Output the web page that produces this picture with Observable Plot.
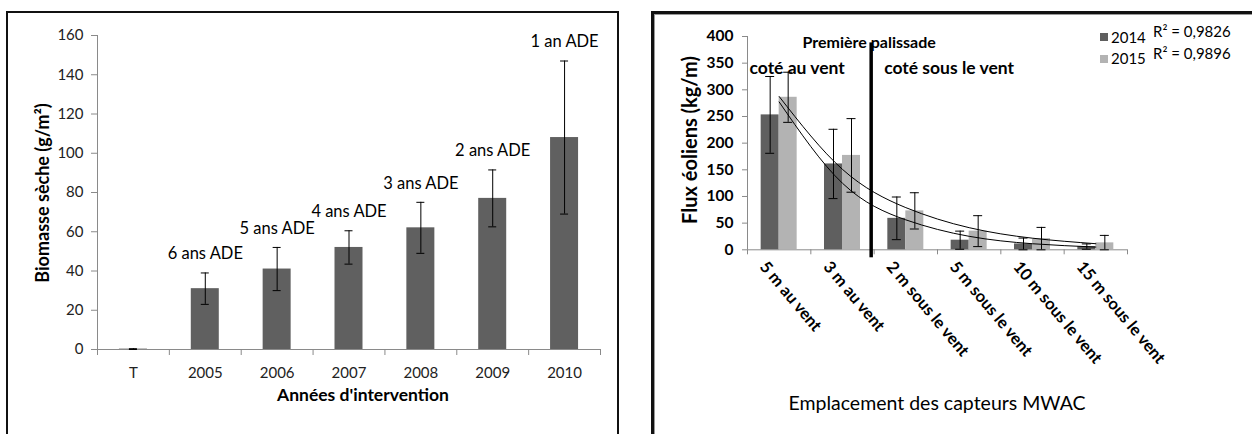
<!DOCTYPE html>
<html><head><meta charset="utf-8">
<script src="https://cdn.jsdelivr.net/npm/d3@7"></script>
<script src="https://cdn.jsdelivr.net/npm/@observablehq/plot@0.6"></script>
<style>
body{margin:0;background:#fff;width:1252px;height:434px;overflow:hidden;position:relative;font-family:Lato,"Open Sans",sans-serif;}
.frame{position:absolute;box-sizing:border-box;}
#f1{left:6px;top:11px;width:613px;height:440px;border:2.5px solid #111;}
#f2{left:651px;top:11px;width:620px;height:440px;border:3px solid #111;box-shadow:inset 1px 1px 0 #999;}
#c1{position:absolute;left:7px;top:12px;}
#c2{position:absolute;left:653px;top:12px;}
#c2 g[aria-label="y-axis tick label"] text, #c2 g[aria-label="x-axis tick label"] text{font-weight:bold;}
.t{position:absolute;white-space:nowrap;color:#000;line-height:1;}
.sq{position:absolute;width:8px;height:8px;}
</style></head><body>
<div class="frame" id="f1"></div>
<div class="frame" id="f2"></div>
<div id="c1"></div>
<div id="c2"></div>
<script>
// ---- Left chart data ----
const years = ["T","2005","2006","2007","2008","2009","2010"];
const biomass = [0.2,31,41,52,62,77,108];
const biomassErr = [0.2,8,11,8.5,13,14.5,39];
const ageLabels = ["","6 ans ADE","5 ans ADE","4 ans ADE","3 ans ADE","2 ans ADE","1 an ADE"];
const leftYTicks = [0,20,40,60,80,100,120,140,160];

// ---- Right chart data ----
const positions = ["5 m au vent","3 m au vent","2 m sous le vent","5 m sous le vent","10 m sous le vent","15 m sous le vent"];
const flux2014 = [253,161,59,18,11,6];
const err2014 = [72,65,40,17,11,5];
const flux2015 = [286,177,73,35,21,13];
const err2015 = [47,69,34,29,21,14];
const seriesYears = ["2014","2015"];
const r2Labels = ["R² = 0,9826","R² = 0,9896"];
const rightYTicks = [0,50,100,150,200,250,300,350,400];
const annotations = ["Première palissade","coté au vent","coté sous le vent"];

const dark = "#5f5f5f", light = "#b3b3b3", axisGray = "#8a8a8a";

function addText(str, x, y, {size=14, weight="normal", rotate=0, color="#000", anchor="center"}={}){
  const d = document.createElement("div");
  d.className = "t";
  d.textContent = str;
  d.style.fontSize = size + "px";
  d.style.fontWeight = weight;
  d.style.color = color;
  d.style.left = x + "px";
  d.style.top = y + "px";
  const tx = anchor === "start" ? "0" : "-50%";
  d.style.transform = `translate(${tx},-50%) rotate(${rotate}deg)`;
  document.body.appendChild(d);
}

// ---- Left chart ----
{
  const W = 612, H = 422, ml = 90, mr = 19, mt = 23, mb = 85;
  const bw = (W - ml - mr) / years.length;
  const data = years.map((y,i)=>({year:y, value:biomass[i], lo:biomass[i]-biomassErr[i], hi:biomass[i]+biomassErr[i], label:ageLabels[i]}));
  const capHalf = 4;
  const chart = Plot.plot({
    width: W, height: H, marginLeft: ml, marginRight: mr, marginTop: mt, marginBottom: mb,
    style: {fontFamily: "Lato, sans-serif", fontSize: "15px", background: "transparent", overflow: "visible"},
    x: {domain: years, padding: 0, round: false},
    y: {domain: [0,160]},
    marks: [
      Plot.ruleY([0], {stroke: axisGray}),
      Plot.ruleX([years[0]], {x: d=>d, dx: -bw/2, y1: 0, y2: 160, stroke: axisGray}),
      Plot.axisY({ticks: leftYTicks, tickSize: 6, tickPadding: 8, fontSize: 15, stroke: axisGray, fill: "#222", label: null}),
      Plot.axisX({ticks: years, tickSize: 6, tickFormat: () => "", dx: -bw/2, stroke: axisGray, label: null}),
      Plot.axisX({ticks: [years[years.length-1]], tickSize: 6, tickFormat: () => "", dx: bw/2, stroke: axisGray, label: null}),
      Plot.axisX({tickSize: 0, tickPadding: 18, fontSize: 15, fill: "#222", label: null}),
      Plot.barY(data, {x: "year", y: "value", fill: "#606060", insetLeft: (bw-28)/2, insetRight: (bw-28)/2}),
      Plot.ruleX(data, {x: "year", y1: "lo", y2: "hi", stroke: "#000", strokeWidth: 1}),
      Plot.tickY(data, {x: "year", y: "hi", stroke: "#000", insetLeft: bw/2-capHalf, insetRight: bw/2-capHalf}),
      Plot.tickY(data, {x: "year", y: "lo", stroke: "#000", insetLeft: bw/2-capHalf, insetRight: bw/2-capHalf}),
      Plot.text(data, {x: "year", y: "hi", text: "label", dy: -19, fontSize: 16.5, fill: "#000"})
    ]
  });
  document.getElementById("c1").appendChild(chart);
  addText("Biomasse sèche (g/m²)", 42, 193, {size: 18, weight: "bold", rotate: -90});
  addText("Années d'intervention", 363, 395, {size: 17.5, weight: "bold"});
}

// ---- Right chart ----
{
  const W = 599, H = 422, ml = 94, mr = 125, mt = 24, mb = 184.7;
  const bw = (W - ml - mr) / positions.length;
  const barW = 18, capHalf = 4.5;
  function expFit(vals){
    const xs = vals.map((_,i)=>i+1), ls = vals.map(Math.log);
    const mx = d3.mean(xs), mlog = d3.mean(ls);
    const b = d3.sum(xs,(x,i)=>(x-mx)*(ls[i]-mlog)) / d3.sum(xs,x=>(x-mx)**2);
    const a = Math.exp(mlog - b*mx);
    return vals.map((_,i)=>a*Math.exp(b*(i+1)));
  }
  const mk = (vals, errs) => positions.map((p,i)=>({pos:p, value:vals[i], lo:Math.max(0,vals[i]-errs[i]), hi:vals[i]+errs[i]}));
  const d14 = mk(flux2014, err2014), d15 = mk(flux2015, err2015);
  const f14 = expFit(flux2014).map((v,i)=>({pos:positions[i], y:v}));
  const f15 = expFit(flux2015).map((v,i)=>({pos:positions[i], y:v}));
  const chart = Plot.plot({
    width: W, height: H, marginLeft: ml, marginRight: mr, marginTop: mt, marginBottom: mb,
    style: {fontFamily: "Lato, sans-serif", fontSize: "15.5px", background: "transparent", overflow: "visible"},
    x: {domain: positions, padding: 0, round: false},
    y: {domain: [0,400]},
    marks: [
      Plot.ruleY([0], {stroke: axisGray}),
      Plot.ruleX([positions[0]], {x: d=>d, dx: -bw/2, y1: 0, y2: 400, stroke: axisGray}),
      Plot.axisY({ticks: rightYTicks, tickSize: 5, tickPadding: 9, fontSize: 15.5, fontWeight: "bold", stroke: axisGray, fill: "#000", label: null}),
      Plot.axisX({ticks: positions, tickSize: 5, tickFormat: () => "", dx: -bw/2, stroke: axisGray, label: null}),
      Plot.axisX({ticks: [positions[positions.length-1]], tickSize: 5, tickFormat: () => "", dx: bw/2, stroke: axisGray, label: null}),
      Plot.axisX({tickSize: 0, tickPadding: 14, tickRotate: 50, dx: -16, fontSize: 16.5, fontWeight: "bold", fill: "#000", label: null}),
      Plot.barY(d14, {x: "pos", y: "value", fill: dark, insetLeft: bw/2-barW, insetRight: bw/2}),
      Plot.barY(d15, {x: "pos", y: "value", fill: light, insetLeft: bw/2, insetRight: bw/2-barW}),
      Plot.ruleX(d14, {x: "pos", y1: "lo", y2: "hi", dx: -barW/2, stroke: "#000"}),
      Plot.tickY(d14, {x: "pos", y: "hi", stroke: "#000", insetLeft: bw/2-barW/2-capHalf, insetRight: bw/2+barW/2-capHalf}),
      Plot.tickY(d14, {x: "pos", y: "lo", stroke: "#000", insetLeft: bw/2-barW/2-capHalf, insetRight: bw/2+barW/2-capHalf}),
      Plot.ruleX(d15, {x: "pos", y1: "lo", y2: "hi", dx: barW/2, stroke: "#000"}),
      Plot.tickY(d15, {x: "pos", y: "hi", stroke: "#000", insetLeft: bw/2+barW/2-capHalf, insetRight: bw/2-barW/2-capHalf}),
      Plot.tickY(d15, {x: "pos", y: "lo", stroke: "#000", insetLeft: bw/2+barW/2-capHalf, insetRight: bw/2-barW/2-capHalf}),
      Plot.line(f14, {x: "pos", y: "y", curve: "natural", stroke: "#000", strokeWidth: 1}),
      Plot.line(f15, {x: "pos", y: "y", curve: "natural", stroke: "#000", strokeWidth: 1}),
      Plot.ruleX([positions[2]], {x: d=>d, dx: -bw/2-3, y1: -15, y2: 388, stroke: "#000", strokeWidth: 3.5}),
      Plot.text([annotations[0]], {x: () => positions[2], frameAnchor: "top", dx: -bw/2-5, dy: 0, text: d=>d, fontSize: 16, fontWeight: "bold", fill: "#000"}),
      Plot.text([annotations[1]], {x: () => positions[0], frameAnchor: "top", dx: 18, dy: 25, text: d=>d, fontSize: 17.5, fontWeight: "bold", fill: "#000"}),
      Plot.text([annotations[2]], {x: () => positions[2], frameAnchor: "top", dx: -bw/2+10, dy: 25, textAnchor: "start", text: d=>d, fontSize: 17.5, fontWeight: "bold", fill: "#000"})
    ]
  });
  document.getElementById("c2").appendChild(chart);
  addText("Flux éoliens (kg/m)", 689, 140, {size: 20, weight: "bold", rotate: -90});
  addText("Emplacement des capteurs MWAC", 937, 403, {size: 19.5});
  // legend
  const cols = [dark, light];
  const sqTop = [33, 55], yrY = [37, 58], r2Y = [31, 53];
  seriesYears.forEach((yr,i)=>{
    const s = document.createElement("div");
    s.className = "sq"; s.style.left = "1100px"; s.style.top = sqTop[i] + "px"; s.style.background = cols[i];
    document.body.appendChild(s);
    addText(yr, 1111, yrY[i], {size: 15, anchor: "start"});
    addText(r2Labels[i], 1153, r2Y[i], {size: 15, anchor: "start"});
  });
}
</script>
</body></html>
